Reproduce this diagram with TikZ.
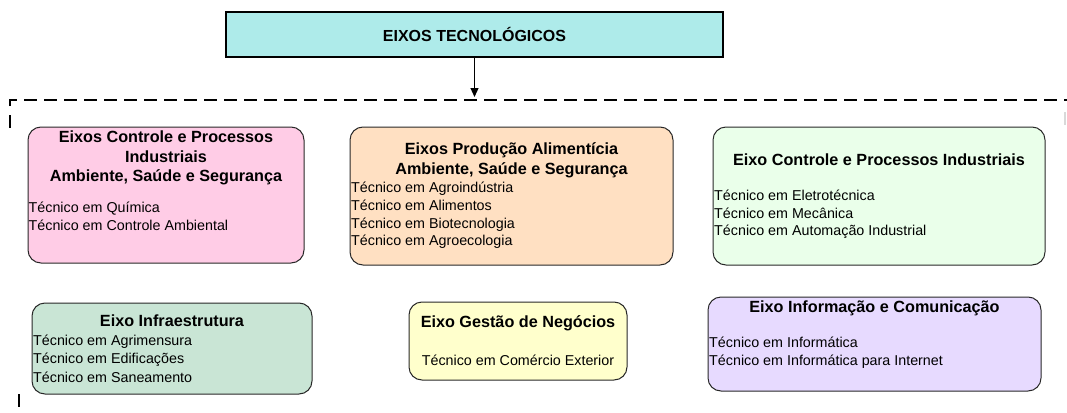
\documentclass[tikz,border=0pt]{standalone}
\usepackage{fontspec}
\setmainfont{Liberation Sans}
\usetikzlibrary{arrows.meta}
\definecolor{topfill}{RGB}{174,235,234}
\definecolor{pinkfill}{RGB}{255,204,230}
\definecolor{peachfill}{RGB}{255,224,194}
\definecolor{greenfill}{RGB}{234,255,234}
\definecolor{mintfill}{RGB}{201,229,213}
\definecolor{yellowfill}{RGB}{255,255,204}
\definecolor{lilacfill}{RGB}{231,218,255}
\definecolor{edge}{RGB}{40,40,40}
\tikzset{
  x=1pt, y=-1pt,
  axbox/.style={draw=edge, line width=1pt, rounded corners=13pt, inner sep=0pt, outer sep=0pt},
  topbox/.style={draw=black, line width=1.8pt, fill=topfill, inner sep=0pt, outer sep=0pt,
    minimum width=497pt, minimum height=45pt, font=\bfseries\fontsize{16}{19.5}\selectfont},
  head/.style={align=center, inner sep=0pt, font=\bfseries\fontsize{16.2}{19.5}\selectfont},
  body/.style={align=left, anchor=west, inner sep=0pt, font=\fontsize{14.3}{18}\selectfont},
  grpline/.style={line width=1.6pt, dash pattern=on 13pt off 7pt},
  tick/.style={line width=1.6pt},
}
\begin{document}
\begin{tikzpicture}
\useasboundingbox (0,0) rectangle (1067,412);

% top box and arrow
\node[topbox] (top) at (474.5,34.5) {EIXOS TECNOLÓGICOS};
\coordinate (arrowend) at (474.5,97);
\draw[line width=1.2pt, -{Triangle[length=9pt,width=8pt]}] (top.south) -- (arrowend);

% dashed group line and ticks
\coordinate (gA) at (10,106);
\coordinate (gB) at (10,100);
\coordinate (gC) at (1067,100);
\draw[grpline] (gA) -- (gB) -- (gC);
\coordinate (tA1) at (10,115); \coordinate (tA2) at (10,128);
\draw[tick] (tA1) -- (tA2);
\coordinate (tB1) at (1065,112); \coordinate (tB2) at (1065,125);
\draw[tick, black!15] (tB1) -- (tB2);
\coordinate (tC1) at (19,394); \coordinate (tC2) at (19,407);
\draw[tick] (tC1) -- (tC2);

% pink box
\node[axbox, fill=pinkfill, minimum width=276pt, minimum height=136pt] (pink) at (166,195) {};
\node[head] (pinkhead) at (166,158) {Eixos Controle e Processos\\Industriais\\Ambiente, Saúde e Segurança};
\node[body] (pinkbody) at (28.5,216) {Técnico em Química\\Técnico em Controle Ambiental};

% peach box
\node[axbox, fill=peachfill, minimum width=323pt, minimum height=138pt] (peach) at (511.5,196) {};
\node[head] (peachhead) at (511.5,160.5) {Eixos Produção Alimentícia\\Ambiente, Saúde e Segurança};
\node[body, font=\fontsize{14.3}{17.6}\selectfont] (peachbody) at (351,215.5) {Técnico em Agroindústria\\Técnico em Alimentos\\Técnico em Biotecnologia\\Técnico em Agroecologia};

% green box
\node[axbox, fill=greenfill, minimum width=332pt, minimum height=138pt] (green) at (879,196) {};
\node[head] (greenhead) at (879,160) {Eixo Controle e Processos Industriais};
\node[body, font=\fontsize{14.3}{17.6}\selectfont] (greenbody) at (714,214.5) {Técnico em Eletrotécnica\\Técnico em Mecânica\\Técnico em Automação Industrial};

% mint box
\node[axbox, fill=mintfill, minimum width=280pt, minimum height=91pt] (mint) at (172,348.5) {};
\node[head] (minthead) at (172,321) {Eixo Infraestrutura};
\node[body, font=\fontsize{14.3}{18.5}\selectfont] (mintbody) at (33,358.5) {Técnico em Agrimensura\\Técnico em Edificações\\Técnico em Saneamento};

% yellow box
\node[axbox, fill=yellowfill, minimum width=218pt, minimum height=78pt] (yellow) at (518,341) {};
\node[head] (yellowhead) at (518,323) {Eixo Gestão de Negócios};
\node[body, anchor=center] (yellowbody) at (518,360) {Técnico em Comércio Exterior};

% lilac box
\node[axbox, fill=lilacfill, minimum width=333pt, minimum height=94pt] (lilac) at (874.5,344) {};
\node[head] (lilachead) at (874.5,308) {Eixo Informação e Comunicação};
\node[body] (lilacbody) at (709,353) {Técnico em Informática\\Técnico em Informática para Internet};
\end{tikzpicture}
\end{document}
